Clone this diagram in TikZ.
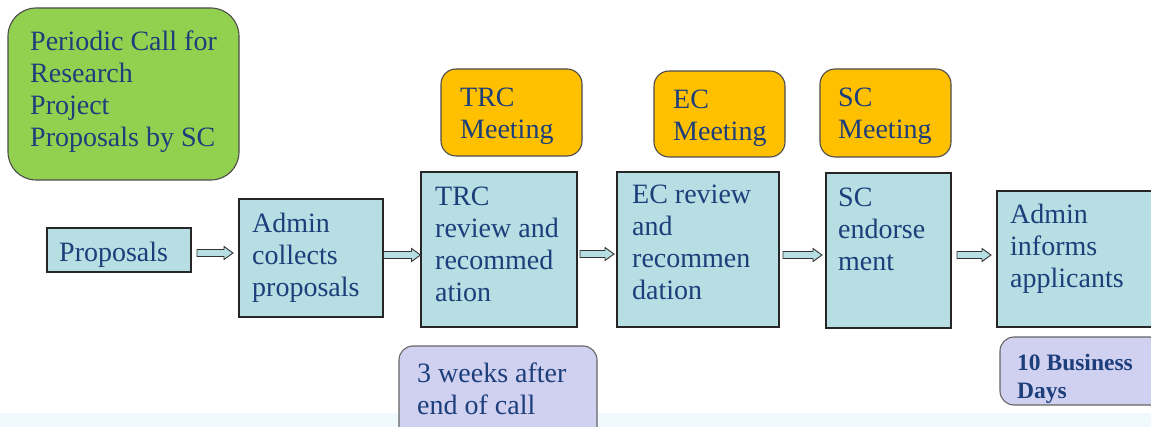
\documentclass[tikz,border=0pt]{standalone}
\usepackage{fontspec}
\setmainfont{Liberation Serif}
\usetikzlibrary{calc}
\definecolor{txtblue}{RGB}{28,62,122}
\definecolor{greenfill}{RGB}{146,208,80}
\definecolor{orangefill}{RGB}{255,192,0}
\definecolor{tealfill}{RGB}{183,222,227}
\definecolor{lavfill}{RGB}{208,208,240}
\definecolor{band}{RGB}{240,250,253}
\begin{document}
\begin{tikzpicture}[x=1pt,y=-1pt,
  base/.style={anchor=north west,inner sep=0pt,outer sep=0pt},
  stepbox/.style={base,draw=black!85,line width=1.1pt,fill=tealfill},
  greenbox/.style={base,draw=black!70,line width=1.1pt,fill=greenfill,rounded corners=28pt},
  meetbox/.style={base,draw=black!70,line width=1.1pt,fill=orangefill,rounded corners=15pt},
  timebox/.style={base,draw=black!60,line width=1.1pt,fill=lavfill,rounded corners=14pt},
  txt/.style={anchor=north west,inner sep=0pt,align=left,text=txtblue,
     font=\fontsize{28pt}{32pt}\selectfont},
  smalltxt/.style={anchor=north west,inner sep=0pt,align=left,text=txtblue,
     font=\fontsize{23.5pt}{28pt}\selectfont\bfseries},
  blockarrow/.style={draw=black!80,line width=0.9pt,fill=tealfill}
]
\useasboundingbox (0,0) rectangle (1151,427);
\fill[band] (0,413) rectangle (1151,427);

% boxes
\node[greenbox,minimum width=231pt,minimum height=172pt] (call) at (8,8) {};
\node[stepbox,minimum width=144pt,minimum height=44pt] (prop) at (47,228) {};
\node[stepbox,minimum width=144pt,minimum height=118pt] (admin) at (239,199) {};
\node[stepbox,minimum width=156pt,minimum height=155pt] (trc) at (421,172) {};
\node[stepbox,minimum width=162pt,minimum height=155pt] (ec) at (617,172) {};
\node[stepbox,minimum width=125pt,minimum height=155pt] (sc) at (826,173) {};
\node[stepbox,minimum width=170pt,minimum height=136pt] (inform) at (997,191) {};
\node[meetbox,minimum width=141pt,minimum height=87pt] (trcm) at (441,69) {};
\node[meetbox,minimum width=131pt,minimum height=86pt] (ecm) at (654,71) {};
\node[meetbox,minimum width=131pt,minimum height=88pt] (scm) at (820,69) {};
\node[timebox,minimum width=198pt,minimum height=100pt] (weeks) at (399,346) {};
\node[timebox,minimum width=165pt,minimum height=68pt] (days) at (1000,337) {};

% texts (baseline = top + 22.4)
\node[txt] (tcall) at (30,27.6) {\strut Periodic Call for\\Research\\Project\\Proposals by SC};
\node[txt] (tprop) at (59,238.6) {\strut Proposals};
\node[txt] (tadmin) at (252,209.6) {\strut Admin\\collects\\proposals};
\node[txt] (ttrc) at (435,182.6) {\strut TRC\\review and\\recommed\\ation};
\node[txt] (tec) at (632,180.6) {\strut EC review\\and\\recommen\\dation};
\node[txt] (tsc) at (838,183.6) {\strut SC\\endorse\\ment};
\node[txt] (tinform) at (1010,200.6) {\strut Admin\\informs\\applicants};
\node[txt] (ttrcm) at (460,83.6) {\strut TRC\\Meeting};
\node[txt] (tecm) at (673,85.6) {\strut EC\\Meeting};
\node[txt] (tscm) at (838,83.6) {\strut SC\\Meeting};
\node[txt] (tweeks) at (417,359.6) {\strut 3 weeks after\\end of call};
\node[smalltxt] (tdays) at (1017,350.4) {\strut 10 Business\\Days};

% block arrows
\newcommand{\blockarr}[4]{%
  \path[blockarrow] let \p1=([xshift=#3]#1.east |- 0,#4), \p2=([xshift=-#3]#2.west |- 0,#4) in
   (\x1,{\y1+3.5pt}) -- ({\x2-9pt},{\y1+3.5pt}) -- ({\x2-9pt},{\y1+6.5pt}) -- (\x2,\y1)
   -- ({\x2-9pt},{\y1-6.5pt}) -- ({\x2-9pt},{\y1-3.5pt}) -- (\x1,{\y1-3.5pt}) -- cycle;}
\blockarr{prop}{admin}{6pt}{253}
\blockarr{admin}{trc}{0.5pt}{255}
\blockarr{trc}{ec}{3pt}{254}
\blockarr{ec}{sc}{4pt}{255}
\blockarr{sc}{inform}{6pt}{255}
\end{tikzpicture}
\end{document}
